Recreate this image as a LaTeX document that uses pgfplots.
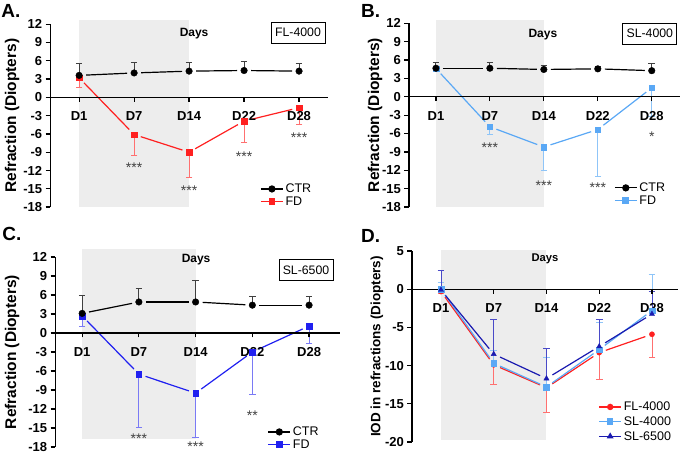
\documentclass[border=0pt]{standalone}
\usepackage{pgfplots}
\pgfplotsset{compat=1.18}
\usepackage{fontspec}
\setmainfont{Liberation Sans}
\definecolor{shadec}{HTML}{EDEDED}
\definecolor{fdred}{HTML}{FF2020}
\definecolor{fdredl}{HTML}{FF7070}
\definecolor{lblue}{HTML}{5AA8F5}
\definecolor{lbluel}{HTML}{8FC5F8}
\definecolor{bblue}{HTML}{2020F0}
\definecolor{bbluel}{HTML}{7A7AF5}
\definecolor{dblue}{HTML}{1A1AB0}
\definecolor{dbluel}{HTML}{4A4AC8}
\definecolor{ebar}{HTML}{404040}
\newcommand\seg[5]{\addplot[#1, no marks, line width=1.2pt, shorten <=7pt, shorten >=7pt, forget plot] coordinates {(#2,#3) (#4,#5)};}
\newcommand\stars[3]{\node[font=\fontsize{14}{14}\selectfont, color=ebar, inner sep=0pt, yshift=-3.5pt] at (axis cs:#1,#2) {#3};}
\pgfplotsset{
  panel/.style={
    scale only axis, clip=false, anchor=south west, axis on top,
    axis x line=middle, axis y line=left,
    axis line style={-, line width=1.2pt},
    tick align=outside, major tick length=4.5pt,
    every tick/.style={line width=1.2pt, black},
    xtick={0,...,4}, xticklabels={D1,D7,D14,D22,D28},
    xticklabel style={font=\bfseries\fontsize{13}{13}\selectfont, yshift=-6.5pt},
    yticklabel style={font=\bfseries\fontsize{13}{13}\selectfont},
    /pgf/number format/assume math mode=true,
    legend style={draw=none, fill=none, font=\fontsize{12.5}{13}\selectfont, row sep=-1.5pt},
    legend cell align=left,
    legend image code/.code={\draw[mark repeat=2,mark phase=2,##1] plot coordinates {(0pt,0pt) (11pt,0pt) (22pt,0pt)};},
  },
  errp/.style n args={2}{forget plot, draw=none, mark=none, error bars/.cd, y dir=#1, y explicit,
    error bar style={draw=#2, line width=0.9pt},
    error mark options={rotate=90, mark size=3.3pt, line width=0.9pt, draw=#2}},
  mk/.style n args={3}{only marks, mark=#1, color=#2, mark size=#3, forget plot},
  shade/.style={fill=shadec, draw=none, forget plot},
  ylab/.style 2 args={every axis y label/.style={at={(axis description cs:#1,0.5)}, rotate=90, anchor=center, font=\bfseries\fontsize{#2}{#2}\selectfont}},
}
\begin{document}
\begin{tikzpicture}
\draw[white, use as bounding box] (0,0) rectangle (680pt,454pt);
% ---------------- A ----------------
\begin{axis}[panel, at={(50pt,247pt)}, width=278pt, height=183pt,
  xmin=-0.527, xmax=4.527, ymin=-18, ymax=12, ytick={-18,-15,...,12},
  ylabel={Refraction (Diopters)}, ylab={-0.137}{15.5},
  legend style={at={(axis description cs:0.745,0.15)}, anchor=north west}]
\addplot[shade] coordinates {(0,-18) (0,12.65) (2,12.65) (2,-18)} -- cycle;
\seg{fdred}{0}{3.2}{1}{-6.1}\seg{fdred}{1}{-6.1}{2}{-9.0}\seg{fdred}{2}{-9.0}{3}{-3.9}\seg{fdred}{3}{-3.9}{4}{-1.7}
\seg{black}{0}{3.6}{1}{4.0}\seg{black}{1}{4.0}{2}{4.3}\seg{black}{2}{4.3}{3}{4.4}\seg{black}{3}{4.4}{4}{4.3}
\addplot[errp={minus}{fdredl}] coordinates {(0,3.2) +- (0,1.6) (1,-6.1) +- (0,3.4) (2,-9.0) +- (0,4.2) (3,-3.9) +- (0,3.5) (4,-1.7) +- (0,2.8)};
\addplot[errp={plus}{ebar}] coordinates {(0,3.6) +- (0,1.9) (1,4.0) +- (0,1.7) (2,4.3) +- (0,1.4) (3,4.4) +- (0,1.5) (4,4.3) +- (0,1.3)};
\addplot[mk={square*}{fdred}{2.8pt}] coordinates {(0,3.2) (1,-6.1) (2,-9.0) (3,-3.9) (4,-1.7)};
\addplot[mk={*}{black}{3.3pt}] coordinates {(0,3.6) (1,4.0) (2,4.3) (3,4.4) (4,4.3)};
\stars{1}{-10.9}{***}\stars{2}{-14.7}{***}\stars{3}{-9.1}{***}\stars{4}{-6.0}{***}
\addlegendimage{black, line width=1.2pt, mark=*, mark size=3pt}\addlegendentry{CTR}
\addlegendimage{fdred, line width=1.2pt, mark=square*, mark size=2.8pt}\addlegendentry{FD}
\end{axis}
% ---------------- B ----------------
\begin{axis}[panel, at={(409pt,247pt)}, width=271pt, height=184pt,
  xmin=-0.5, xmax=4.52, ymin=-18, ymax=12, ytick={-18,-15,...,12},
  ylabel={Refraction (Diopters)}, ylab={-0.125}{15.5},
  legend style={at={(axis description cs:0.746,0.155)}, anchor=north west}]
\addplot[shade] coordinates {(0,-18) (0,12.5) (2,12.5) (2,-18)} -- cycle;
\seg{lblue}{0}{4.6}{1}{-4.9}\seg{lblue}{1}{-4.9}{2}{-8.2}\seg{lblue}{2}{-8.2}{3}{-5.35}\seg{lblue}{3}{-5.35}{4}{1.45}
\seg{black}{0}{4.65}{1}{4.65}\seg{black}{1}{4.65}{2}{4.45}\seg{black}{2}{4.45}{3}{4.55}\seg{black}{3}{4.55}{4}{4.25}
\addplot[errp={minus}{lbluel}] coordinates {(0,4.6) +- (0,0.5) (1,-4.9) +- (0,1.2) (2,-8.2) +- (0,3.8) (3,-5.35) +- (0,7.6) (4,1.45) +- (0,4.7)};
\addplot[errp={plus}{ebar}] coordinates {(0,4.65) +- (0,1.0) (1,4.65) +- (0,0.9) (2,4.45) +- (0,0.65) (3,4.55) +- (0,0.35) (4,4.25) +- (0,1.2)};
\addplot[mk={square*}{lblue}{2.8pt}] coordinates {(0,4.6) (1,-4.9) (2,-8.2) (3,-5.35) (4,1.45)};
\addplot[mk={*}{black}{3.3pt}] coordinates {(0,4.65) (1,4.65) (2,4.45) (3,4.55) (4,4.25)};
\stars{1}{-7.8}{***}\stars{2}{-14.0}{***}\stars{3}{-14.3}{***}\stars{4}{-6.0}{*}
\addlegendimage{black, line width=1.2pt, mark=*, mark size=3pt}\addlegendentry{CTR}
\addlegendimage{lblue, line width=1.2pt, mark=square*, mark size=2.8pt}\addlegendentry{FD}
\end{axis}
% ---------------- C ----------------
\begin{axis}[panel, at={(55pt,7pt)}, width=285pt, height=190pt,
  xmin=-0.476, xmax=4.545, ymin=-18, ymax=12, ytick={-18,-15,...,12},
  ylabel={Refraction (Diopters)}, ylab={-0.151}{15.5},
  legend style={at={(axis description cs:0.735,0.128)}, anchor=north west}]
\addplot[shade] coordinates {(0,-16.7) (0,13.3) (2,13.3) (2,-16.7)} -- cycle;
\seg{bblue}{0}{2.7}{1}{-6.5}\seg{bblue}{1}{-6.5}{2}{-9.5}\seg{bblue}{2}{-9.5}{3}{-3.0}\seg{bblue}{3}{-3.0}{4}{1.1}
\seg{black}{0}{3.1}{1}{4.9}\seg{black}{1}{4.9}{2}{4.9}\seg{black}{2}{4.9}{3}{4.4}\seg{black}{3}{4.4}{4}{4.4}
\addplot[errp={minus}{bbluel}] coordinates {(0,2.7) +- (0,1.7) (1,-6.5) +- (0,8.4) (2,-9.5) +- (0,7.0) (3,-3.0) +- (0,6.7) (4,1.1) +- (0,2.8)};
\addplot[errp={plus}{ebar}] coordinates {(0,3.1) +- (0,2.8) (1,4.9) +- (0,2.1) (2,4.9) +- (0,3.4) (3,4.4) +- (0,1.4) (4,4.4) +- (0,1.3)};
\addplot[mk={square*}{bblue}{2.8pt}] coordinates {(0,2.7) (1,-6.5) (2,-9.5) (3,-3.0) (4,1.1)};
\addplot[mk={*}{black}{3.3pt}] coordinates {(0,3.1) (1,4.9) (2,4.9) (3,4.4) (4,4.4)};
\stars{1}{-16.1}{***}\stars{2}{-17.4}{***}\stars{3}{-12.5}{**}
\addlegendimage{black, line width=1.2pt, mark=*, mark size=3pt}\addlegendentry{CTR}
\addlegendimage{bblue, line width=1.2pt, mark=square*, mark size=2.8pt}\addlegendentry{FD}
\end{axis}
% ---------------- D ----------------
\begin{axis}[panel, at={(412pt,12pt)}, width=266pt, height=191pt,
  xmin=-0.55, xmax=4.49, ymin=-20, ymax=5, ytick={-20,-15,...,5},
  ylabel={IOD in refractions (Diopters)}, ylab={-0.132}{13.5},
  legend style={at={(axis description cs:0.69,0.232)}, anchor=north west, font=\fontsize{12.5}{13}\selectfont, row sep=0.5pt}]
\addplot[shade] coordinates {(0,-19.7) (0,5.17) (2,5.17) (2,-19.7)} -- cycle;
\seg{fdred}{0}{-0.3}{1}{-9.9}\seg{fdred}{1}{-9.9}{2}{-12.9}\seg{fdred}{2}{-12.9}{3}{-8.3}\seg{fdred}{3}{-8.3}{4}{-5.9}
\seg{lblue}{0}{0.0}{1}{-9.7}\seg{lblue}{1}{-9.7}{2}{-12.8}\seg{lblue}{2}{-12.8}{3}{-7.9}\seg{lblue}{3}{-7.9}{4}{-2.8}
\seg{dblue}{0}{-0.1}{1}{-8.5}\seg{dblue}{1}{-8.5}{2}{-11.7}\seg{dblue}{2}{-11.7}{3}{-7.5}\seg{dblue}{3}{-7.5}{4}{-3.25}
\addplot[errp={minus}{fdredl}] coordinates {(0,-0.3) +- (0,0.3) (1,-9.9) +- (0,2.6) (2,-12.9) +- (0,3.2) (3,-8.3) +- (0,3.5) (4,-5.9) +- (0,3.0)};
\addplot[errp={plus}{lbluel}] coordinates {(0,0.0) +- (0,0.9) (1,-9.7) +- (0,1.7) (2,-12.8) +- (0,3.8) (3,-7.9) +- (0,3.5) (4,-2.8) +- (0,4.8)};
\addplot[errp={plus}{dbluel}] coordinates {(0,-0.1) +- (0,2.5) (1,-8.5) +- (0,4.5) (2,-11.7) +- (0,3.9) (3,-7.5) +- (0,3.6) (4,-3.25) +- (0,3.0)};
\addplot[mk={*}{fdred}{2.6pt}] coordinates {(0,-0.3) (1,-9.9) (2,-12.9) (3,-8.3) (4,-5.9)};
\addplot[mk={square*}{lblue}{2.8pt}] coordinates {(0,0.0) (1,-9.7) (2,-12.8) (3,-7.9) (4,-2.8)};
\addplot[mk={triangle*}{dblue}{3pt}] coordinates {(0,-0.1) (1,-8.5) (2,-11.7) (3,-7.5) (4,-3.25)};
\addlegendimage{fdred, line width=1.2pt, mark=*, mark size=2.6pt}\addlegendentry{FL-4000}
\addlegendimage{lblue, line width=1.2pt, mark=square*, mark size=2.6pt}\addlegendentry{SL-4000}
\addlegendimage{dblue, line width=1.2pt, mark=triangle*, mark size=2.8pt}\addlegendentry{SL-6500}
\end{axis}
% ---------------- annotations ----------------
\begin{scope}[font=\bfseries\fontsize{19}{19}\selectfont]
\node[anchor=north west, inner sep=0pt] at (1pt,450pt) {A.};
\node[anchor=north west, inner sep=0pt] at (361pt,450pt) {B.};
\node[anchor=north west, inner sep=0pt] at (2pt,227pt) {C.};
\node[anchor=north west, inner sep=0pt] at (361pt,225pt) {D.};
\end{scope}
\begin{scope}[font=\bfseries\fontsize{12}{12}\selectfont]
\node at (194pt,421pt) {Days};
\node at (543pt,420pt) {Days};
\node at (196pt,194pt) {Days};
\node[font=\bfseries\fontsize{11.2}{11}\selectfont] at (545pt,195pt) {Days};
\end{scope}
\begin{scope}[every node/.style={draw, line width=0.8pt, minimum width=54pt, minimum height=21pt, inner sep=0pt, font=\fontsize{12.3}{12}\selectfont}]
\node at (298pt,421.5pt) {FL-4000};
\node at (650pt,420.5pt) {SL-4000};
\node at (306pt,184pt) {SL-6500};
\end{scope}
\end{tikzpicture}
\end{document}
